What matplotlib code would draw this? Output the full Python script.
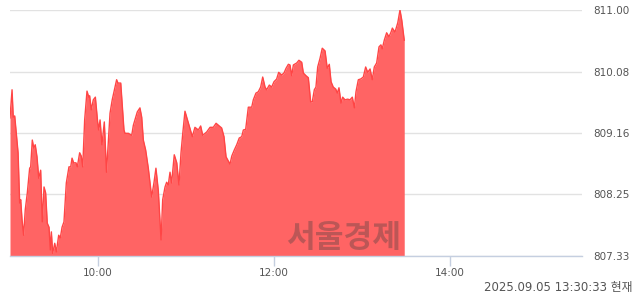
import matplotlib
matplotlib.use('Agg')
import matplotlib.pyplot as plt

# minutes after 09:00 and index value
minutes = [0, 1.4, 2.2, 3.2, 4.3, 5.5, 6.6, 7.3, 8.2, 9.3, 10.4, 11.8, 13.4, 14.1, 15.2, 16.2, 17.2, 18.4, 19.6, 20.9,
           22.0, 23.2, 24.3, 25.4, 26.6, 27.5, 28.2, 29.1, 30.5, 31.6, 33.2, 34.3, 35.5, 36.8, 38.4, 40.2, 41.4, 42.3, 43.4, 45.0,
           45.9, 47.5, 48.6, 49.6, 50.9, 52.5, 53.7, 54.3, 55.4, 56.8, 58.2, 59.7, 60.5, 61.4, 62.7, 64.3, 65.8, 68.2, 69.7, 72.7,
           73.6, 75.5, 77.7, 78.4, 80.7, 83.0, 84.1, 86.8, 88.6, 89.8, 90.9, 92.5, 94.3, 96.6, 98.2, 99.5, 101.1, 103.0, 104.1, 105.7,
           106.8, 107.9, 109.1, 110.2, 112.0, 113.7, 115.2, 116.6, 117.8, 119.3, 120.5, 122.7, 124.3, 126.1, 128.4, 130.0, 131.4, 134.1, 136.4, 138.6,
           140.5, 142.7, 144.3, 145.9, 147.3, 148.8, 150.0, 151.2, 152.9, 154.6, 156.3, 158.0, 159.1, 160.7, 162.5, 164.8, 165.9, 167.7, 169.3, 170.9,
           172.3, 173.9, 175.0, 176.8, 178.4, 180.0, 181.8, 183.2, 185.2, 186.8, 188.2, 189.8, 190.9, 192.1, 193.2, 195.5, 197.0, 198.9, 200.0, 201.8,
           203.4, 205.0, 206.1, 207.5, 208.6, 209.8, 211.4, 212.9, 214.8, 216.3, 217.7, 218.9, 220.4, 222.1, 223.2, 224.3, 225.7, 226.8, 228.4, 230.2,
           231.8, 233.4, 234.8, 235.9, 237.5, 239.1, 240.9, 242.5, 243.9, 245.5, 247.0, 248.4, 250.0, 251.6, 252.9, 253.8, 255.2, 256.8, 258.4, 259.8,
           260.7, 262.5, 264.4, 265.9, 267.1, 268.8]
prices = [809.39, 809.81, 809.40, 809.42, 809.16, 808.87, 808.12, 808.17, 807.87, 807.64, 808.02, 808.27, 808.64, 808.66, 809.06, 808.94, 808.99, 808.81, 808.49, 808.61,
          807.84, 808.36, 808.27, 807.82, 807.76, 807.42, 807.69, 807.37, 807.52, 807.39, 807.64, 807.60, 807.76, 807.84, 808.42, 808.66, 808.66, 808.79, 808.72, 808.72,
          808.66, 808.87, 808.82, 808.66, 809.36, 809.79, 809.70, 809.72, 809.51, 809.66, 809.70, 809.34, 809.21, 809.36, 808.99, 809.33, 808.58, 809.46, 809.66, 809.96,
          809.91, 809.91, 809.21, 809.16, 809.16, 809.13, 809.28, 809.48, 809.54, 809.40, 809.06, 808.91, 808.64, 808.21, 808.43, 808.64, 808.31, 807.57, 808.17, 808.36,
          808.43, 808.39, 808.58, 808.42, 808.84, 808.72, 808.39, 808.87, 809.16, 809.49, 809.40, 809.24, 809.11, 809.25, 809.21, 809.27, 809.13, 809.18, 809.25, 809.25,
          809.31, 809.27, 809.24, 809.11, 808.81, 808.75, 808.70, 808.82, 808.91, 808.99, 809.09, 809.11, 809.21, 809.22, 809.55, 809.55, 809.66, 809.76, 809.78, 809.85,
          810.00, 809.85, 809.81, 809.88, 809.85, 809.93, 809.97, 810.07, 810.03, 810.06, 810.13, 810.19, 810.18, 810.02, 810.18, 810.21, 810.25, 810.22, 810.06, 810.02,
          809.99, 809.63, 809.63, 809.81, 809.85, 810.15, 810.28, 810.43, 810.39, 810.13, 810.19, 809.93, 809.85, 809.82, 809.76, 809.84, 809.61, 809.70, 809.66, 809.67,
          809.66, 809.70, 809.54, 809.78, 809.96, 809.97, 810.00, 810.15, 810.07, 810.12, 809.96, 810.15, 810.21, 810.45, 810.48, 810.42, 810.55, 810.66, 810.60, 810.67,
          810.73, 810.67, 810.81, 811.00, 810.85, 810.55]

y_ticks = [807.33, 808.25, 809.16, 810.08, 811.00]
y_labels = ['807.33', '808.25', '809.16', '810.08', '811.00']
x_ticks = [60, 180, 300]
x_labels = ['10:00', '12:00', '14:00']
stamp = '2025.09.05 13:30:33 현재'

plt.rcParams['font.family'] = ['DejaVu Sans', 'Noto Sans CJK KR']

fig = plt.figure(figsize=(6.4, 2.94), dpi=100)
ax = fig.add_axes([10 / 640, 1 - 256 / 294, 572 / 640, 246 / 294])

ax.fill_between(minutes, prices, 807.33, color='#ff6464', linewidth=0, zorder=2)
ax.plot(minutes, prices, color='#ff4545', linewidth=1.0, zorder=3)

ax.set_xlim(0, 390)
ax.set_ylim(807.33, 811.00)

ax.set_yticks(y_ticks)
ax.set_yticklabels(y_labels)
ax.yaxis.tick_right()
ax.tick_params(axis='y', length=0, pad=8, labelsize=7.5, labelcolor='#555555')
ax.grid(axis='y', color='#e2e2e2', linewidth=1, zorder=1)

ax.set_xticks(x_ticks)
ax.set_xticklabels(x_labels)
ax.tick_params(axis='x', length=7, width=1, color='#c5cfe0', labelsize=7.5, labelcolor='#555555', pad=2)

for side in ['left', 'right', 'top']:
    ax.spines[side].set_visible(False)
ax.spines['bottom'].set_color('#c5cfe0')
ax.spines['bottom'].set_linewidth(1)

# watermark
ax.text(0.6836, 0.035, '서울경제', transform=ax.transAxes, ha='right', va='baseline',
        fontsize=22.5, fontweight='bold', color='#7a4a4a', alpha=0.5,
        family=['Noto Sans CJK KR'], zorder=4)

fig.text(632 / 640, 1 - 287 / 294, stamp, ha='right', va='center', fontsize=8.5, color='#555555')

fig.savefig('out.png', dpi=100)
